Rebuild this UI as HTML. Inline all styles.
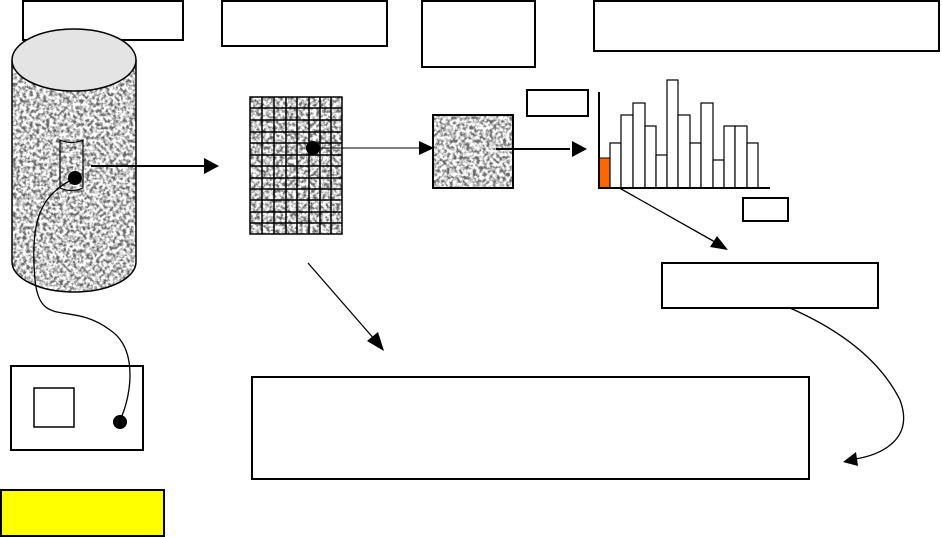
<!DOCTYPE html>
<html><head><style>body{margin:0;background:#fff}svg{display:block}</style></head><body>
<svg width="942" height="537" viewBox="0 0 942 537" xmlns="http://www.w3.org/2000/svg">
<defs>
<filter id="n" x="0" y="0" width="100%" height="100%">
<feTurbulence type="fractalNoise" baseFrequency="0.3" numOctaves="2" seed="3"/>
<feColorMatrix type="matrix" values="0 0 0 0 1  0 0 0 0 1  0 0 0 0 1  0 0 0 3 -0.85"/>
</filter>
<pattern id="tex" width="942" height="537" patternUnits="userSpaceOnUse">
<rect width="942" height="537" fill="#666"/>
<rect width="942" height="537" fill="#fff" filter="url(#n)"/>
</pattern>
</defs>
<g fill="none" stroke="#000" stroke-width="2">
<rect x="23" y="1" width="160" height="39" fill="#fff"/>
<rect x="222" y="1" width="165" height="45"/>
<rect x="422" y="1" width="113" height="66"/>
<rect x="594" y="1" width="345" height="50"/>
</g>
<path d="M12 60 V262 A62 30 0 0 0 136 262 V60 Z" fill="url(#tex)"/>
<path d="M12 60 V262 A62 30 0 0 0 136 262 V60" fill="none" stroke="#000" stroke-width="1.5"/>
<ellipse cx="74" cy="60" rx="62" ry="31" fill="#e4e4e4" stroke="#000" stroke-width="1.5"/>
<path d="M60 140 Q71 145 83 140 V188 Q71 193 60 188 Z" fill="none" stroke="#000" stroke-width="1.2"/>
<circle cx="75" cy="178" r="7"/>
<rect x="250" y="97" width="92" height="137" fill="url(#tex)"/>
<g stroke="#000" stroke-width="1.5">
<rect x="250" y="97" width="92" height="137" fill="none"/>
<path d="M262 97V234M274 97V234M286 97V234M297 97V234M309 97V234M320 97V234M331 97V234"/>
<path d="M250 108H342M250 120H342M250 132H342M250 143H342M250 155H342M250 166H342M250 178H342M250 189H342M250 200H342M250 212H342M250 223H342"/>
</g>
<circle cx="313" cy="148" r="7"/>
<rect x="433" y="115" width="80" height="73" fill="url(#tex)" stroke="#000" stroke-width="2"/>
<g stroke="#000" stroke-width="2">
<line x1="91" y1="166" x2="205" y2="166"/>
<line x1="320" y1="148" x2="420" y2="148" stroke-width="1"/>
<line x1="496" y1="149" x2="570" y2="149"/>
<line x1="308" y1="263" x2="375" y2="340" stroke-width="1.3"/>
<line x1="607" y1="181" x2="715" y2="242" stroke-width="1.3"/>
</g>
<polygon points="219,166 204,158 204,174"/>
<polygon points="434,148 419,141 419,155"/>
<polygon points="587,149 572,141 572,157"/>
<polygon points="384,351 367,341 378,332"/>
<polygon points="728,250 710,247 717,236"/>
<rect x="527" y="90" width="61" height="26" fill="none" stroke="#000" stroke-width="2"/>
<rect x="743" y="198" width="45" height="23" fill="none" stroke="#000" stroke-width="2"/>
<rect x="599" y="158" width="11" height="30" fill="#ff6600" stroke="#000" stroke-width="1"/>
<g fill="#fff" stroke="#000" stroke-width="1.2">
<rect x="610" y="143" width="11" height="45"/>
<rect x="621" y="115" width="12" height="73"/>
<rect x="633" y="103" width="12" height="85"/>
<rect x="645" y="126" width="11" height="62"/>
<rect x="656" y="155" width="11" height="33"/>
<rect x="667" y="80" width="11" height="108"/>
<rect x="678" y="115" width="12" height="73"/>
<rect x="690" y="143" width="11" height="45"/>
<rect x="701" y="103" width="12" height="85"/>
<rect x="713" y="160" width="11" height="28"/>
<rect x="724" y="126" width="11" height="62"/>
<rect x="735" y="126" width="12" height="62"/>
<rect x="747" y="143" width="11" height="45"/>
</g>
<path d="M599 92V188H770" fill="none" stroke="#000" stroke-width="2"/>
<rect x="662" y="263" width="216" height="45" fill="none" stroke="#000" stroke-width="2"/>
<rect x="252" y="377" width="557" height="102" fill="none" stroke="#000" stroke-width="2"/>
<rect x="11" y="366" width="132" height="84" fill="none" stroke="#000" stroke-width="2"/>
<rect x="34" y="388" width="40" height="39" fill="none" stroke="#000" stroke-width="1.5"/>
<circle cx="120" cy="422" r="7"/>
<path d="M75 178 C40 195 30 220 35 280 C40 330 70 300 110 330 C140 350 130 400 120 420" fill="none" stroke="#000" stroke-width="1.3"/>
<path d="M790 308 C840 330 880 360 900 400 C915 440 880 455 855 459" fill="none" stroke="#000" stroke-width="1.3"/>
<polygon points="843,462 856,452 858,466"/>
<rect x="1" y="490" width="163" height="46" fill="#ffff00" stroke="#000" stroke-width="2"/>
</svg>
</body></html>
